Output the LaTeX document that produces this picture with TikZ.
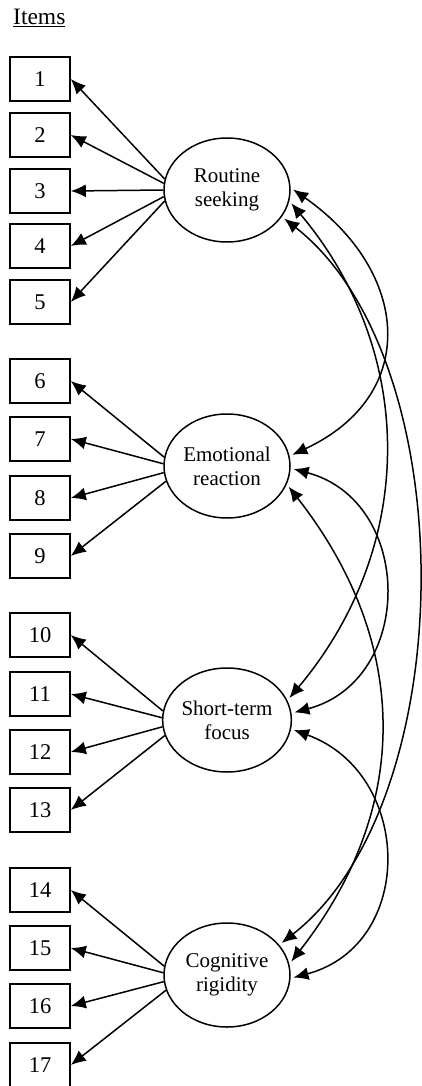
\documentclass[tikz,border=0pt]{standalone}
\usepackage{fontspec}
\setmainfont{Liberation Serif}
\usepackage{tikz}
\usetikzlibrary{arrows.meta, shapes.geometric}
\tikzset{>={Latex[length=15pt,width=13pt]}}
\tikzset{
  item/.style={draw, line width=1.6pt, minimum width=60pt, minimum height=44pt, inner sep=0pt, font=\fontsize{22.5}{24}\selectfont},
  factor/.style={draw, ellipse, line width=1.5pt, minimum width=126pt, minimum height=104pt, inner sep=0pt, align=center, font=\fontsize{21}{24}\selectfont},
  load/.style={->, line width=1.5pt},
  cov/.style={<->, line width=1.5pt, shorten <=3pt, shorten >=3pt}
}

\begin{document}
\begin{tikzpicture}[x=1pt,y=1pt]
  \useasboundingbox (0,0) rectangle (422,-1086);
  \node [anchor=base west, inner sep=0pt, font=\fontsize{23.5}{24}\selectfont] (title) at (13,-25) {\underline{Items}};
  \foreach \n/\y in {1/79,2/135,3/191,4/246,5/302,6/381,7/439,8/498,9/556,10/635,11/694,12/752,13/810,14/890,15/948,16/1006,17/1065}
    \node [item] (i\n) at (40,-\y) {\n};
  \node [factor] (rs) at (227,-190) {Routine\\seeking};
  \node [factor] (er) at (227,-466) {Emotional\\reaction};
  \node [factor] (st) at (227,-720) {Short-term\\focus};
  \node [factor] (cr) at (227,-975) {Cognitive\\rigidity};
  \foreach \a/\n in {170/1,174/2,180/3,186/4,190/5}
    \draw [load] (rs.\a) -- (i\n.east);
  \foreach \a/\n in {172/6,178/7,186/8,194/9}
    \draw [load] (er.\a) -- (i\n.east);
  \foreach \a/\n in {172/10,178/11,186/12,194/13}
    \draw [load] (st.\a) -- (i\n.east);
  \foreach \a/\n in {172/14,178/15,186/16,194/17}
    \draw [load] (cr.\a) -- (i\n.east);
  \draw [cov] (rs.2) .. controls +(-35:145) and +(25:145) .. (er.9);
  \draw [cov] (er.-2) .. controls +(-15:128) and +(15:128) .. (st.6);
  \draw [cov] (st.-8) .. controls +(-20:130) and +(15:130) .. (cr.-3);
  \draw [cov] (rs.-10) .. controls +(-50:200) and +(50:200) .. (st.18);
  \draw [cov] (er.-17) .. controls +(-52:200) and +(52:200) .. (cr.10);
  \draw [cov] (rs.-26) .. controls +(-38:232) and +(38:232) .. (cr.30);
\end{tikzpicture}
\end{document}
